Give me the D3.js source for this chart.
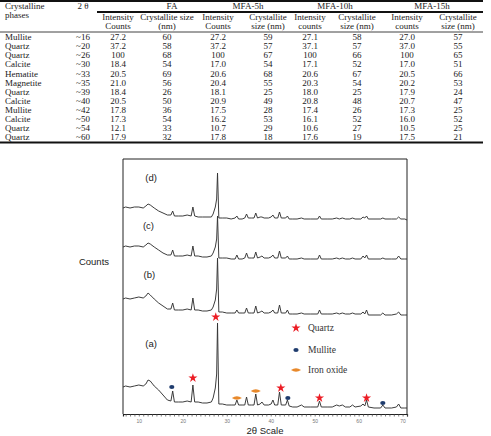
<!DOCTYPE html>
<html>
<head>
<meta charset="utf-8">
<script src="https://cdn.jsdelivr.net/npm/d3@7"></script>
<style>
  body { margin: 0; background: #fff; }
  svg { display: block; }
</style>
</head>
<body>
<svg id="fig" width="491" height="436"></svg>
<script>
// ---- table data ----
var phases = ["Mullite", "Quartz", "Quartz", "Calcite", "Hematite", "Magnetite",
  "Quartz", "Calcite", "Mullite", "Calcite", "Quartz", "Quartz"];
var angles = ["~16", "~20", "~26", "~30", "~33", "~35", "~39", "~40", "~42", "~50", "~54", "~60"];
var faInt = [27.2, 37.2, 100, 18.4, 20.5, 21.0, 18.4, 20.5, 17.8, 17.3, 12.1, 17.9];
var faSize = [60, 58, 68, 54, 69, 56, 26, 50, 36, 54, 33, 32];
var mfa5Int = [27.2, 37.2, 100, 17.0, 20.6, 20.4, 18.1, 20.9, 17.5, 16.2, 10.7, 17.8];
var mfa5Size = [59, 57, 67, 54, 68, 55, 25, 49, 28, 53, 29, 18];
var mfa10Int = [27.1, 37.1, 100, 17.1, 20.6, 20.3, 18.0, 20.8, 17.4, 16.1, 10.6, 17.6];
var mfa10Size = [58, 57, 66, 52, 67, 54, 25, 48, 26, 52, 27, 19];
var mfa15Int = [27.0, 37.0, 100, 17.0, 20.5, 20.2, 17.9, 20.7, 17.3, 16.0, 10.5, 17.5];
var mfa15Size = [57, 55, 65, 51, 66, 53, 24, 47, 25, 52, 25, 21];
var groups = ["FA", "MFA-5h", "MFA-10h", "MFA-15h"];
var subHeads = [
  ["Intensity", "Counts"], ["Crystallite size", "(nm)"],
  ["Intensity", "Counts"], ["Crystallite", "size (nm)"],
  ["Intensity", "counts"], ["Crystallite", "size (nm)"],
  ["Intensity", "counts"], ["Crystallite", "size (nm)"]
];

// ---- XRD data (2θ grid shared by the four patterns, counts) ----
var twoTheta = [6.4, 7, 8, 9, 10, 11, 11.6, 12.1, 12.6, 13.5,
  14.5, 15.5, 16.5, 17.3, 17.7, 18.1, 19, 20, 21, 21.9,
  22.3, 22.7, 23.5, 24.5, 25.5, 26.5, 26.9, 27.4, 27.7, 27.9,
  28.2, 29, 30, 31, 31.9, 32.3, 32.7, 33.5, 34.1, 34.5,
  34.9, 35.6, 36.2, 36.6, 37, 37.6, 38, 38.5, 39.5, 40.1,
  40.5, 40.9, 41.6, 42, 42.4, 43.4, 43.8, 44.2, 45, 46,
  47, 47.6, 49, 50.7, 51.1, 51.5, 53, 54, 55, 55.6,
  56.3, 57, 58, 58.6, 59.2, 60.5, 61, 61.4, 61.8, 62.2,
  63.5, 65, 65.5, 66, 67.5, 68.6, 69.1, 69.6, 70.5, 71];
var countsA = [27, 28, 27, 28, 29, 28, 30, 34, 33, 28,
  24, 19, 14, 13, 23, 12, 12, 12, 13, 12,
  29, 12, 12, 11, 11, 12, 16, 26, 40, 91,
  10, 10, 9, 9, 9, 14, 9, 9, 9, 17,
  9, 9, 9, 20, 9, 10, 12, 9, 9, 10,
  14, 9, 9, 22, 9, 9, 14, 8, 7, 7,
  9, 7, 7, 7, 13, 7, 7, 7, 9, 8,
  9, 7, 7, 9, 7, 8, 10, 8, 14, 7,
  6, 6, 9, 6, 6, 7, 10, 6, 6, 6];
var countsB = [115, 116, 115, 116, 117, 116, 118, 121, 119, 115,
  111, 108, 105, 105, 111, 104, 104, 104, 105, 104,
  116, 104, 104, 103, 103, 104, 107, 114, 125, 156,
  102, 102, 101, 101, 101, 104, 101, 101, 101, 106,
  101, 101, 101, 108, 101, 102, 103, 101, 101, 102,
  104, 101, 101, 109, 101, 101, 104, 100, 100, 100,
  101, 100, 100, 100, 104, 100, 100, 100, 101, 100,
  101, 100, 100, 101, 100, 100, 102, 100, 104, 99,
  99, 99, 101, 99, 99, 100, 102, 99, 99, 99];
var countsC = [167, 168, 167, 168, 168, 167, 169, 171, 170, 167,
  164, 161, 159, 159, 164, 158, 158, 158, 159, 158,
  168, 158, 158, 157, 157, 158, 161, 167, 175, 198,
  156, 156, 156, 155, 155, 159, 155, 155, 156, 161,
  156, 156, 156, 162, 156, 157, 158, 156, 156, 157,
  159, 156, 156, 163, 156, 156, 158, 155, 155, 155,
  156, 155, 155, 155, 159, 155, 155, 155, 156, 155,
  156, 155, 155, 156, 155, 155, 158, 156, 159, 155,
  155, 155, 156, 155, 155, 155, 158, 155, 155, 155];
var countsD = [206, 207, 206, 207, 207, 206, 208, 210, 209, 206,
  203, 201, 199, 199, 203, 198, 198, 198, 199, 198,
  207, 198, 197, 197, 197, 197, 200, 207, 215, 241,
  196, 196, 196, 195, 196, 198, 195, 195, 196, 200,
  196, 196, 196, 201, 196, 197, 197, 196, 196, 197,
  199, 196, 196, 202, 196, 196, 198, 195, 195, 195,
  196, 195, 195, 195, 198, 195, 195, 195, 196, 195,
  196, 195, 195, 196, 195, 195, 197, 196, 198, 195,
  195, 195, 196, 195, 195, 195, 197, 195, 195, 194];
var traceNames = ["(a)", "(b)", "(c)", "(d)"];
var labelAt = [[12.8, 70], [12.4, 139], [12.2, 188], [12.8, 236]];

var quartzMarks = [[27.5, 97], [22.3, 36], [42.3, 26], [51.1, 16], [61.8, 16]];
var mulliteMarks = [[17.5, 27], [43.9, 16], [65.5, 11]];
var ironMarks = [[32.3, 16], [36.6, 23]];
var xTickLabels = [10, 20, 30, 40, 50, 60, 70];

var svg = d3.select("#fig");
var serif = "'Liberation Serif', 'Times New Roman', serif";
var sans = "'Liberation Sans', Arial, sans-serif";
var ink = "#1a1a1a";

// ---------------- table ----------------
var tbl = svg.append("g").attr("font-family", serif).attr("font-size", 9).attr("fill", ink);
var colX = [118, 167, 218, 268, 310, 357, 407, 458];
var groupX = [172, 248, 335, 432];
var rowY = d3.scaleLinear().domain([0, phases.length - 1]).range([37, 137]);

function hline(x1, x2, y, w) {
  tbl.append("line").attr("x1", x1).attr("x2", x2).attr("y1", y).attr("y2", y)
    .attr("stroke", "#111").attr("stroke-width", w);
}
hline(0, 483, 1, 2);
hline(97, 483, 12, 2);
hline(0, 483, 32, 0.8);
hline(0, 483, 142.5, 2);

tbl.append("text").attr("x", 5).attr("y", 8.5).text("Crystalline");
tbl.append("text").attr("x", 5).attr("y", 18).text("phases");
tbl.append("text").attr("x", 83).attr("y", 8.5).attr("text-anchor", "middle").text("2 θ");
tbl.selectAll(".grp").data(groups).enter().append("text")
  .attr("x", function (d, i) { return groupX[i]; }).attr("y", 8.5)
  .attr("text-anchor", "middle").text(function (d) { return d; });
subHeads.forEach(function (s, i) {
  tbl.append("text").attr("x", colX[i]).attr("y", 20).attr("text-anchor", "middle").text(s[0]);
  tbl.append("text").attr("x", colX[i]).attr("y", 29).attr("text-anchor", "middle").text(s[1]);
});

var fmtI = function (v) { return v === 100 ? "100" : v.toFixed(1); };
var cols = [faInt, faSize, mfa5Int, mfa5Size, mfa10Int, mfa10Size, mfa15Int, mfa15Size];
phases.forEach(function (p, r) {
  var y = rowY(r) + 3.2;
  tbl.append("text").attr("x", 5).attr("y", y).text(p);
  tbl.append("text").attr("x", 83).attr("y", y).attr("text-anchor", "middle").text(angles[r]);
  cols.forEach(function (c, k) {
    tbl.append("text").attr("x", colX[k]).attr("y", y).attr("text-anchor", "middle")
      .text(k % 2 === 0 ? fmtI(c[r]) : c[r]);
  });
});

// ---------------- XRD chart ----------------
var x = d3.scaleLinear().domain([6.4, 71]).range([123, 407]);
var y = d3.scaleLinear().domain([0, 255]).range([414, 159]);

svg.append("path")
  .attr("d", "M" + x(6.4) + "," + y(0) + "V" + y(255) + "H" + x(71) + "V" + y(0))
  .attr("fill", "none").attr("stroke", "#222").attr("stroke-width", 1);

var axis = d3.axisBottom(x)
  .tickValues(d3.range(7, 72))
  .tickSize(2.5)
  .tickFormat(function (d) { return xTickLabels.indexOf(d) >= 0 ? d : ""; });
var ax = svg.append("g").attr("transform", "translate(0," + y(0) + ")").call(axis);
ax.select(".domain").attr("stroke", "#222").attr("stroke-width", 1.2);
ax.selectAll(".tick line").attr("stroke", "#444").attr("stroke-width", 0.7);
ax.selectAll(".tick text").attr("font-size", 5).attr("fill", "#777").attr("dy", "0.75em")
  .attr("font-family", sans);

var line = d3.line()
  .x(function (d) { return x(d[0]); })
  .y(function (d) { return y(d[1]); });
[countsA, countsB, countsC, countsD].forEach(function (c) {
  var pts = twoTheta.map(function (t, i) { return [t, c[i]]; });
  svg.append("path").datum(pts).attr("d", line)
    .attr("fill", "none").attr("stroke", "#333").attr("stroke-width", 0.95)
    .attr("stroke-linejoin", "round");
});

svg.selectAll(".tlabel").data(traceNames).enter().append("text")
  .attr("x", function (d, i) { return x(labelAt[i][0]); })
  .attr("y", function (d, i) { return y(labelAt[i][1]); })
  .attr("dy", "0.35em").attr("text-anchor", "middle")
  .attr("font-family", sans).attr("font-size", 9.5).attr("fill", "#222")
  .text(function (d) { return d; });

svg.append("text").attr("x", 94).attr("y", 262).attr("dy", "0.35em")
  .attr("text-anchor", "middle").attr("font-family", sans).attr("font-size", 9.5)
  .attr("fill", "#222").text("Counts");
svg.append("text").attr("x", 265).attr("y", 431).attr("dy", "0.35em")
  .attr("text-anchor", "middle").attr("font-family", sans).attr("font-size", 9.5)
  .attr("fill", "#222").text("2θ Scale");

// phase markers
var starPath = d3.symbol().type(d3.symbolStar).size(26)();
var red = "#ec1c24", navy = "#1f3c6e", orange = "#e8892b";
var lens = "M-5,0Q0,-3.6 5,0Q0,3.6 -5,0Z";

function drawMarks(data, drawFn) {
  data.forEach(function (d) { drawFn(x(d[0]), y(d[1])); });
}
function star(px, py) {
  svg.append("path").attr("d", starPath).attr("fill", red)
    .attr("transform", "translate(" + px + "," + py + ")");
}
function dot(px, py) {
  svg.append("ellipse").attr("cx", px).attr("cy", py).attr("rx", 2.6).attr("ry", 2.1).attr("fill", navy);
}
function iron(px, py) {
  svg.append("path").attr("d", lens).attr("fill", orange)
    .attr("transform", "translate(" + px + "," + py + ")");
}
drawMarks(quartzMarks, star);
drawMarks(mulliteMarks, dot);
drawMarks(ironMarks, iron);

// legend
var legend = [["Quartz", star, 328], ["Mullite", dot, 350], ["Iron oxide", iron, 370]];
legend.forEach(function (l) {
  l[1](296, l[2]);
  svg.append("text").attr("x", 308).attr("y", l[2]).attr("dy", "0.35em")
    .attr("font-family", serif).attr("font-size", 9.5).attr("fill", "#333").text(l[0]);
});
</script>
</body>
</html>
